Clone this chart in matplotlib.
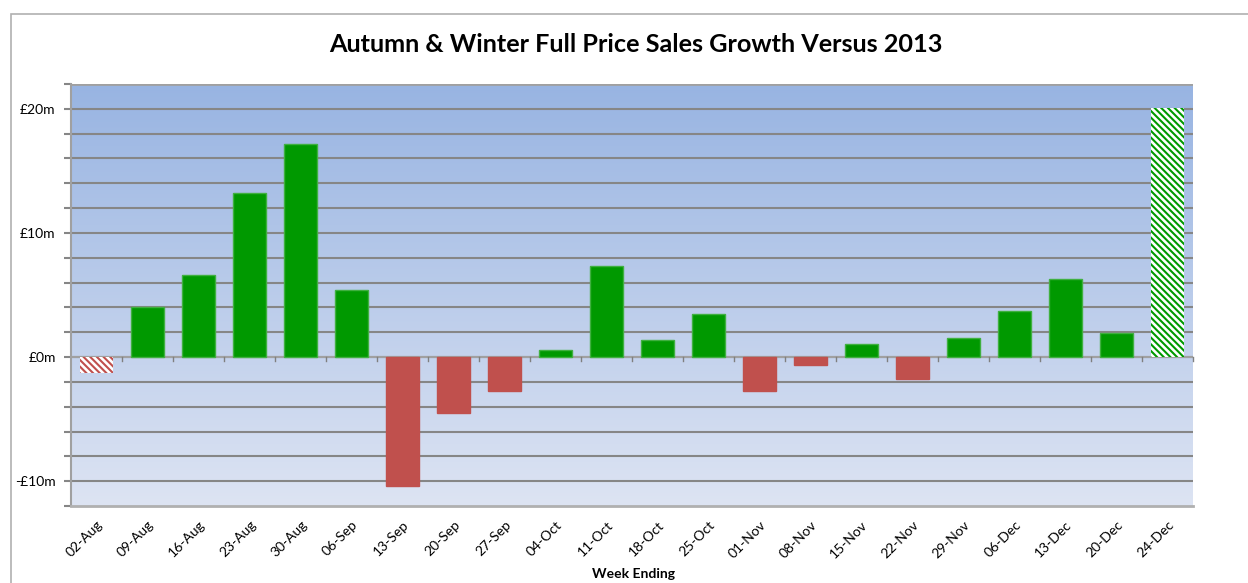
import numpy as np
import matplotlib.pyplot as plt
from matplotlib.patches import Rectangle

# weekly growth vs 2013, £m
weeks = ['02-Aug', '09-Aug', '16-Aug', '23-Aug', '30-Aug', '06-Sep', '13-Sep', '20-Sep',
         '27-Sep', '04-Oct', '11-Oct', '18-Oct', '25-Oct', '01-Nov', '08-Nov', '15-Nov',
         '22-Nov', '29-Nov', '06-Dec', '13-Dec', '20-Dec', '24-Dec']
growth = [-1.25, 4.03, 6.6, 13.24, 17.13, 5.4, -10.4, -4.5,
          -2.7, 0.54, 7.36, 1.4, 3.49, -2.74, -0.64, 1.07,
          -1.77, 1.56, 3.7, 6.25, 1.96, 20.1]
# part weeks (first and last) drawn hatched
partial = [True] + [False] * 20 + [True]

green = '#009900'
red = '#C0504D'

plt.rcParams['font.family'] = ['Lato', 'DejaVu Sans']
plt.rcParams['hatch.linewidth'] = 1.5

fig = plt.figure(figsize=(12.48, 5.83), dpi=100)
ax = fig.add_axes([71 / 1248, 1 - 506 / 583, 1122 / 1248, 422 / 583])

# outer chart border (top and left visible)
fig.patches.append(Rectangle((11 / 1248, -0.1), 1.2, 1 - 14 / 583 + 0.1,
                             transform=fig.transFigure, fill=False,
                             edgecolor='#b0b0b0', linewidth=1.2))

ymin, ymax = -12, 22
x = np.arange(len(weeks))

# gradient background, darker at the top
grad = np.linspace(0, 1, 256).reshape(-1, 1)
top = np.array([0.596, 0.706, 0.886])
bot = np.array([0.867, 0.894, 0.953])
img = top * (1 - grad[..., None]) + bot * grad[..., None]
ax.imshow(img, extent=(-0.5, len(weeks) - 0.5, ymin, ymax), origin='upper',
          aspect='auto', zorder=0)

for yv in range(ymin + 2, ymax, 2):
    ax.axhline(yv, color='#868686', lw=1.5, zorder=1)

for xi, v, p in zip(x, growth, partial):
    c = green if v >= 0 else red
    if p:
        ax.bar(xi, v, width=0.65, color='white', edgecolor=c, hatch='\\\\\\\\\\',
               linewidth=0, zorder=3)
    else:
        ax.bar(xi, v, width=0.65, color=c,
               edgecolor='#40b040' if v >= 0 else c, linewidth=1, zorder=3)

ax.axhline(0, color='#a0a0a0', lw=1.5, zorder=2)
# category tick marks on zero line
for b in np.arange(0.5, len(weeks) - 0.5 + 0.01, 1):
    ax.plot([b, b], [0, -0.35], color='#808080', lw=1, zorder=2, clip_on=False)

ax.set_xlim(-0.5, len(weeks) - 0.5)
ax.set_ylim(ymin, ymax)
ax.set_yticks(np.arange(ymin, ymax + 1, 2))
ylabels = []
for t in np.arange(ymin, ymax + 1, 2):
    if t % 10 == 0:
        ylabels.append(('-£%dm' % abs(t)) if t < 0 else '£%dm' % t)
    else:
        ylabels.append('')
ax.set_yticklabels(ylabels, fontsize=10)
ax.tick_params(axis='y', length=5, color='#868686', width=1.5, pad=6)

ax.set_xticks(x)
ax.set_xticklabels(weeks, rotation=45, ha='right', rotation_mode='anchor', fontsize=10)
ax.tick_params(axis='x', length=0, pad=9)

for s in ['top', 'right']:
    ax.spines[s].set_visible(False)
ax.spines['left'].set_color('#a0a0a0')
ax.spines['left'].set_linewidth(1.5)
ax.spines['bottom'].set_color('#b0b0b0')
ax.spines['bottom'].set_linewidth(2)
ax.axhline(ymax, color='#a0a0a0', lw=2, zorder=2)

fig.text(636 / 1248, 1 - 44 / 583, 'Autumn & Winter Full Price Sales Growth Versus 2013',
         ha='center', va='center', fontsize=18.2, fontweight='bold')
fig.text(633 / 1248, 1 - 574 / 583, 'Week Ending', ha='center', va='center',
         fontsize=10, fontweight='bold')

fig.savefig('out.png', dpi=100)
